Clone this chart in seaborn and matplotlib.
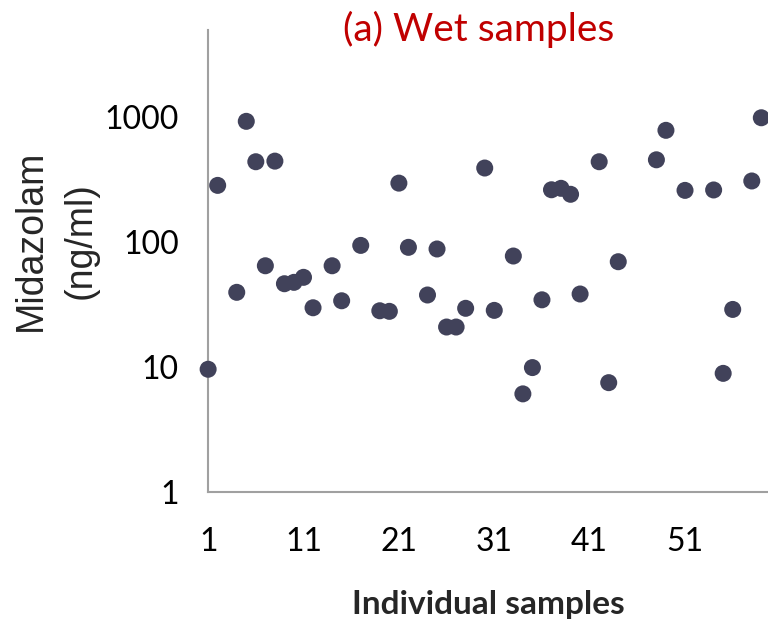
import matplotlib
matplotlib.use("Agg")
import matplotlib.pyplot as plt
import matplotlib.ticker as mticker
import seaborn as sns
import pandas as pd
import numpy as np

samples = [1, 2, 4, 5, 6, 7, 8, 9, 10, 11, 12, 14, 15, 17, 19, 20, 21, 22, 24, 25,
           26, 27, 28, 30, 31, 33, 34, 35, 36, 37, 38, 39, 40, 42, 43, 44, 48, 49,
           51, 54, 55, 56, 58, 59]
midazolam = [9.6, 284, 39.6, 924, 439, 64.6, 444, 46.4, 47.6, 52.2, 29.8, 64.6, 33.9,
             94, 28.2, 27.9, 296, 90.7, 37.7, 88, 20.9, 20.9, 29.5, 391, 28.4, 77.3,
             6.1, 9.9, 34.5, 262, 269, 241, 38.4, 439, 7.5, 69.6, 455, 783, 259, 261,
             8.9, 28.9, 308, 987]
xticks = [1, 11, 21, 31, 41, 51]
yticks = [1, 10, 100, 1000]
ytick_labels = ["1", "10", "100", "1000"]

df = pd.DataFrame({"sample": samples, "midazolam": midazolam})

sns.set_theme(style="white")
plt.rcParams["font.family"] = ["Lato", "DejaVu Sans"]

fig = plt.figure(figsize=(7.68, 6.26), dpi=100)
ax = fig.add_axes([0.271, 0.214, 0.729, 0.738])

sns.scatterplot(data=df, x="sample", y="midazolam", ax=ax, s=150,
                color="#41425A", edgecolor="none", zorder=3, clip_on=False)

ax.set_yscale("log")
ax.set_ylim(1, 4966)
ax.set_xlim(1, 59.7)
ax.set_xticks(xticks)
ax.set_xticklabels([str(t) for t in xticks])
ax.set_yticks(yticks)
ax.set_yticklabels(ytick_labels)
ax.yaxis.set_minor_locator(mticker.NullLocator())

for side in ["top", "right"]:
    ax.spines[side].set_visible(False)
for side in ["left", "bottom"]:
    ax.spines[side].set_color("#A0A0A0")
    ax.spines[side].set_linewidth(1.5)

ax.tick_params(axis="both", which="major", direction="out", length=8, width=1.5,
               color="#A0A0A0", labelsize=23, labelcolor="black")
ax.tick_params(axis="x", pad=17)
ax.tick_params(axis="y", pad=13)

ax.set_xlabel("Individual samples", fontsize=24, fontweight="bold", labelpad=24)
ax.set_ylabel("Midazolam\n(ng/ml)", fontsize=27, linespacing=1.5,
              family=["Liberation Sans", "DejaVu Sans"])
ax.yaxis.set_label_coords(-0.195, 0.544)
ax.set_title("(a) Wet samples", color="#C00000", fontsize=28, pad=-8, x=0.483)

fig.savefig("out.png", dpi=100)
